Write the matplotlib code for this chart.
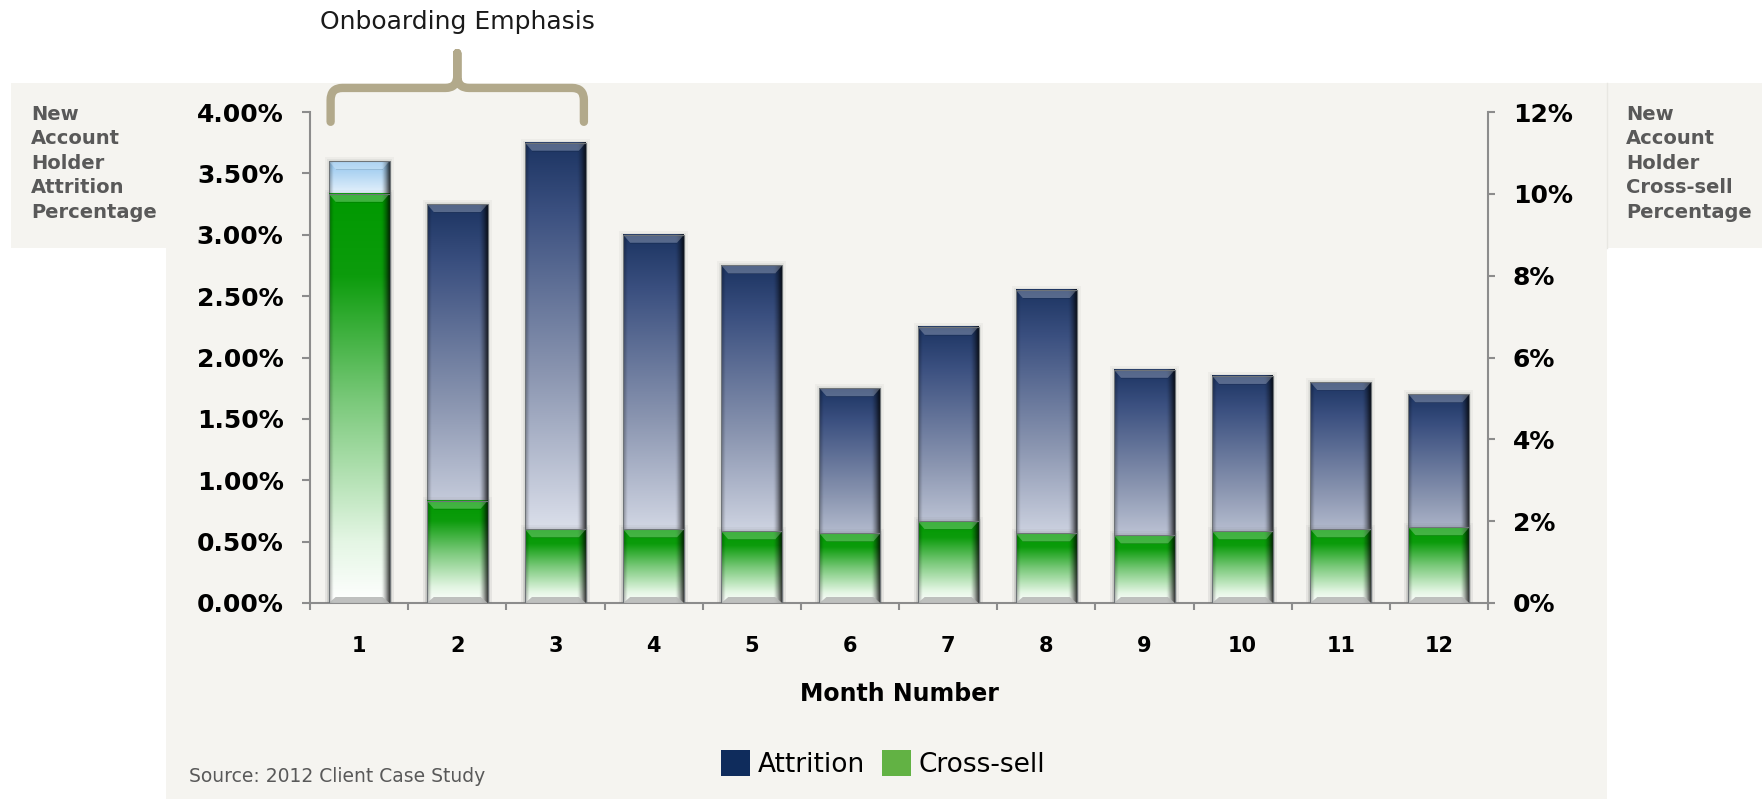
import numpy as np
import matplotlib
matplotlib.use('Agg')
import matplotlib.pyplot as plt
from matplotlib.colors import LinearSegmentedColormap
from matplotlib.patches import Rectangle, Polygon, Patch, PathPatch
from matplotlib.path import Path
import matplotlib.transforms as mtransforms

months = ['1', '2', '3', '4', '5', '6', '7', '8', '9', '10', '11', '12']
attrition = [3.60, 3.25, 3.75, 3.00, 2.75, 1.75, 2.25, 2.55, 1.90, 1.85, 1.80, 1.70]
cross_sell = [10.0, 2.5, 1.8, 1.8, 1.75, 1.7, 2.0, 1.7, 1.65, 1.75, 1.8, 1.85]

W, H = 1762, 799
BG = '#f5f4f0'
AXIS_GRAY = '#8c8c8c'
LABEL_GRAY = '#595959'
BAR_W = 0.62

navy_cmap = LinearSegmentedColormap.from_list(
    'navy', [(0, '#e9ecf4'), (0.15, '#dde1ec'), (0.5, '#8a95b0'), (0.85, '#3b5080'), (1, '#1c3462')])
sky_cmap = LinearSegmentedColormap.from_list(
    'sky', [(0, '#ffffff'), (0.92, '#eef6fd'), (1, '#94c6ee')])
green_cmap = LinearSegmentedColormap.from_list(
    'green', [(0, '#ffffff'), (0.15, '#e4f6e4'), (0.5, '#78c878'), (0.8, '#0c9c0c'), (1, '#009900')])

fig = plt.figure(figsize=(W / 100, H / 100), dpi=100)
fig.patch.set_facecolor('white')


def px_rect(x0, y0, x1, y1, **kw):
    # rectangle given in figure pixels measured from the top-left corner
    fig.patches.append(Rectangle((x0 / W, 1 - y1 / H), (x1 - x0) / W, (y1 - y0) / H,
                                 transform=fig.transFigure, zorder=-10, **kw))


# background panels
px_rect(11, 83, 166, 248, facecolor=BG, edgecolor='none')
px_rect(166, 83, 1607, 799, facecolor=BG, edgecolor='none')
px_rect(1607, 83, 1762, 248, facecolor=BG, edgecolor='none')
fig.lines.append(plt.Line2D([1607 / W, 1607 / W], [1 - 248 / H, 1 - 83 / H],
                            transform=fig.transFigure, color='#e8e7e2', lw=1))

ax_l, ax_r, ax_b, ax_t = 310, 1488, 603, 112
ax = fig.add_axes([ax_l / W, 1 - ax_b / H, (ax_r - ax_l) / W, (ax_b - ax_t) / H])
ax.patch.set_visible(False)
ax2 = ax.twinx()

x = np.arange(len(months))
px_x = len(months) / (ax_r - ax_l)          # data units per pixel along x
px_y1 = 4.0 / (ax_b - ax_t)                  # left axis units per pixel
px_y2 = 12.0 / (ax_b - ax_t)                 # right axis units per pixel

grad = np.linspace(0, 1, 256).reshape(-1, 1)
t = np.linspace(0, 1, 80)
side_alpha = 0.30 * np.clip(1 - t / 0.07, 0, 1) + 0.75 * np.clip((t - 0.86) / 0.14, 0, 1) ** 1.4
side = np.zeros((1, len(t), 4))
side[..., 3] = side_alpha


def glossy_bar(a, xc, h, cmap, py, bottom_rim):
    x0, x1 = xc - BAR_W / 2, xc + BAR_W / 2
    # soft halo
    for k, al in [(4, 0.05), (2, 0.08)]:
        a.add_patch(Rectangle((x0 - k * px_x, 0), BAR_W + 2 * k * px_x, h + k * py,
                              facecolor='#606060', edgecolor='none', alpha=al, zorder=1))
    a.imshow(grad, cmap=cmap, extent=[x0, x1, 0, h], origin='lower',
             aspect='auto', interpolation='bilinear', zorder=2)
    a.imshow(side, extent=[x0, x1, 0, h], origin='lower',
             aspect='auto', interpolation='bilinear', zorder=3)
    d, hd = 7 * px_x, 8 * py
    a.add_patch(Polygon([(x0, h), (x1, h), (x1 - d, h - hd), (x0 + d, h - hd)],
                        closed=True, facecolor='white', alpha=0.25, edgecolor='none', zorder=4))
    a.add_patch(Polygon([(x0 + d, h - hd), (x1 - d, h - hd), (x1 - d, h - hd - py), (x0 + d, h - hd - py)],
                        closed=True, facecolor='black', alpha=0.10, edgecolor='none', zorder=4))
    if bottom_rim:
        a.add_patch(Polygon([(x0, 0), (x1, 0), (x1 - d, 6 * py), (x0 + d, 6 * py)],
                            closed=True, facecolor='#b4b6b4', alpha=0.85, edgecolor='none', zorder=4))
    a.add_patch(Rectangle((x0, 0), BAR_W, h, facecolor='none', edgecolor='#6f7478',
                          lw=0.8, zorder=5))


for i in range(len(months)):
    glossy_bar(ax, x[i], attrition[i], sky_cmap if i == 0 else navy_cmap, px_y1, False)
    glossy_bar(ax2, x[i], cross_sell[i], green_cmap, px_y2, True)

ax.set_xlim(-0.5, len(months) - 0.5)
ax.set_ylim(0, 4)
ax2.set_ylim(0, 12)
ax.set_yticks(np.arange(0, 4.01, 0.5))
ax.set_yticklabels([f'{v:.2f}%' for v in np.arange(0, 4.01, 0.5)])
ax2.set_yticks(np.arange(0, 12.1, 2))
ax2.set_yticklabels([f'{v:.0f}%' for v in np.arange(0, 12.1, 2)])
ax.set_xticks(x)
ax.set_xticklabels(months)
ax.set_xticks(np.arange(-0.5, len(months), 1), minor=True)

for a in (ax, ax2):
    a.spines['top'].set_visible(False)
    for s in ('left', 'right', 'bottom'):
        a.spines[s].set_color(AXIS_GRAY)
        a.spines[s].set_linewidth(1.5)
ax.spines['right'].set_visible(False)
ax2.spines['left'].set_visible(False)
ax2.spines['bottom'].set_visible(False)

ax.tick_params(axis='y', direction='out', length=6, width=1.5, color=AXIS_GRAY, pad=13,
               labelsize=18)
ax2.tick_params(axis='y', direction='out', length=5, width=1.5, color=AXIS_GRAY, pad=13,
                labelsize=18)
ax.tick_params(axis='x', which='major', length=0, pad=24, labelsize=15)
ax.tick_params(axis='x', which='minor', direction='out', length=5, width=1.5, color=AXIS_GRAY)
for lbl in ax.get_yticklabels() + ax2.get_yticklabels() + ax.get_xticklabels():
    lbl.set_fontweight('bold')

ax.set_xlabel('Month Number', fontsize=17, fontweight='bold', labelpad=18.5)

# side titles
fig.text(31 / W, 1 - 105 / H, 'New\nAccount\nHolder\nAttrition\nPercentage', ha='left', va='top',
         fontsize=14, fontweight='bold', color=LABEL_GRAY, linespacing=1.36)
fig.text(1626 / W, 1 - 105 / H, 'New\nAccount\nHolder\nCross-sell\nPercentage', ha='left', va='top',
         fontsize=14, fontweight='bold', color=LABEL_GRAY, linespacing=1.36)

# bracket over the first three months
trans = mtransforms.blended_transform_factory(ax.transData, ax.transAxes)
xl, xr, xm = -BAR_W / 2 + 0.02, 2 + BAR_W / 2 - 0.02, 1.0
yb, yh, yt = 0.98, 1.049, 1.12
rx, ry = 0.12, 0.025
verts, codes = [], []
for side_x, sgn in [(xl, 1), (xr, -1)]:
    verts += [(side_x, yb), (side_x, yh - ry), (side_x, yh), (side_x + sgn * rx, yh),
              (xm - sgn * rx, yh), (xm, yh), (xm, yh + ry), (xm, yt)]
    codes += [Path.MOVETO, Path.LINETO, Path.CURVE3, Path.CURVE3,
              Path.LINETO, Path.CURVE3, Path.CURVE3, Path.LINETO]
ax.add_patch(PathPatch(Path(verts, codes), facecolor='none', edgecolor='#b2a98b', lw=6,
                       capstyle='round', joinstyle='round', transform=trans, clip_on=False, zorder=6))
ax.text(xm, 1.183, 'Onboarding Emphasis', transform=trans, ha='center', va='center',
        fontsize=18, color='#1a1a1a')

handles = [Patch(facecolor='#0f2c5c', label='Attrition'), Patch(facecolor='#62b244', label='Cross-sell')]
fig.legend(handles=handles, loc='center', bbox_to_anchor=(883 / W, 1 - 764 / H), ncol=2,
           frameon=False, fontsize=19, handlelength=1.1, handleheight=1.1,
           handletextpad=0.27, columnspacing=0.65, borderaxespad=0)

fig.text(189 / W, 1 - 777 / H, 'Source: 2012 Client Case Study', ha='left', va='center',
         fontsize=13.5, color=LABEL_GRAY)

fig.savefig('out.png', dpi=100, facecolor=fig.get_facecolor())
